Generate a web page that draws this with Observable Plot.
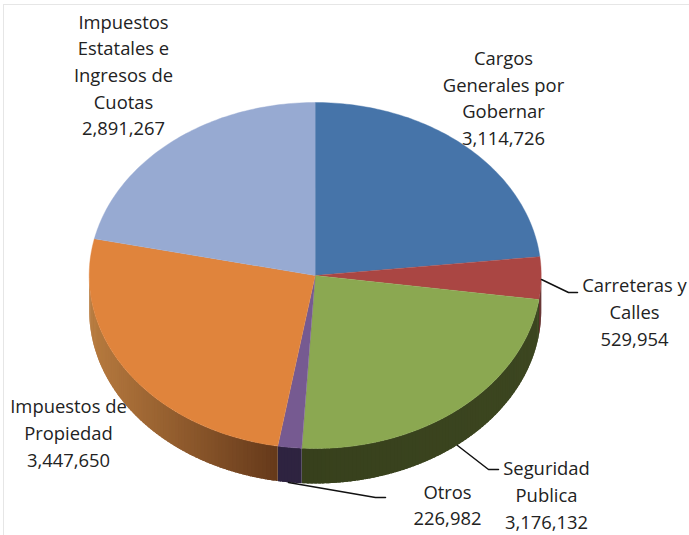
<!DOCTYPE html>
<html>
<head>
<meta charset="utf-8">
<script src="https://cdn.jsdelivr.net/npm/d3@7"></script>
<script src="https://cdn.jsdelivr.net/npm/@observablehq/plot@0.6"></script>
<style>
html,body{margin:0;padding:0;background:#fff;}
svg{display:block;}
</style>
</head>
<body>
<div id="chart"></div>
<script>
const categories = ["Cargos Generales por Gobernar","Carreteras y Calles","Seguridad Publica","Otros","Impuestos de Propiedad","Impuestos Estatales e Ingresos de Cuotas"];
const values = [3114726,529954,3176132,226982,3447650,2891267];
const topColors = ["#4674a9","#aa4643","#8ba851","#765a91","#e0843c","#97aad2"];
const sideLeft = ["#2a4566","#5c2523","#37401c","#2e2340","#b87b3f","#5a6a88"];
const sideRight = ["#2a4566","#5c2523","#3c4620","#2e2340","#65391a","#5a6a88"];
const labelLines = [
  "Cargos\nGenerales por\nGobernar\n3,114,726",
  "Carreteras y\nCalles\n529,954",
  "Seguridad\nPublica\n3,176,132",
  "Otros\n226,982",
  "Impuestos de\nPropiedad\n3,447,650",
  "Impuestos\nEstatales e\nIngresos de\nCuotas\n2,891,267"
];
const labelX = [503,634,546,447,68,123];
const labelY = [96,310,493,503,431,73];
const leaders = [
  {id:"Carreteras",pts:[[541,279],[568,292],[577,292]]},
  {id:"Seguridad",pts:[[457,445],[488,469],[498,469]]},
  {id:"Otros",pts:[[288,482],[375,497],[385,497]]}
];

const cx=314.7, cy=275, rx=226, ry=173, depth=35;
const total=d3.sum(values);
const rad=d=>d*Math.PI/180;
const px=t=>cx+rx*Math.sin(t), py=t=>cy-ry*Math.cos(t);

let acc=0;
const slices=values.map((v,i)=>{const a0=acc/total*2*Math.PI; acc+=v; return {i,a0,a1:acc/total*2*Math.PI};});

const topRows=[];
slices.forEach(s=>{
  topRows.push({id:s.i,x:cx,y:cy,c:topColors[s.i]});
  const n=Math.ceil((s.a1-s.a0)/rad(1));
  for(let k=0;k<=n;k++){const t=s.a0+(s.a1-s.a0)*k/n; topRows.push({id:s.i,x:px(t),y:py(t),c:topColors[s.i]});}
});

const sideRows=[];
slices.forEach(s=>{
  const lo=Math.max(s.a0,Math.PI/2), hi=Math.min(s.a1,3*Math.PI/2);
  if(hi<=lo) return;
  const n=Math.ceil((hi-lo)/rad(1));
  const xa=px(lo), xb=px(hi), xmin=Math.min(xa,xb), xmax=Math.max(xa,xb);
  const colorAt=d3.interpolateRgb(sideLeft[s.i],sideRight[s.i]);
  for(let k=0;k<n;k++){
    const a=lo+(hi-lo)*k/n, b=Math.min(hi,lo+(hi-lo)*(k+1.8)/n);
    const c=colorAt((px(lo+(hi-lo)*(k+.5)/n)-xmin)/(xmax-xmin));
    const id=s.i+"-"+k;
    const path=[];
    const m=6;
    for(let j=0;j<=m;j++){const t=a+(b-a)*j/m; path.push({id,x:px(t),y:py(t),c});}
    for(let j=m;j>=0;j--){const t=a+(b-a)*j/m; path.push({id,x:px(t),y:py(t)+depth,c});}
    sideRows.push(...path);
  }
});

const leaderRows=leaders.flatMap(l=>l.pts.map(([x,y])=>({id:l.id,x,y})));
const labelRows=labelLines.map((t,i)=>({t,x:labelX[i],y:labelY[i]}));

const plot=Plot.plot({
  width:689,height:535,margin:0,
  x:{domain:[0,689],axis:null},
  y:{domain:[535,0],axis:null},
  color:{type:"identity"},
  marks:[
    Plot.ruleX([3],{y1:4,y2:535,stroke:"#e6e6e6"}),
    Plot.ruleY([4],{x1:3,x2:689,stroke:"#e6e6e6"}),
    Plot.line(sideRows,{x:"x",y:"y",z:"id",fill:"c",stroke:"none",curve:"linear"}),
    Plot.line(topRows,{x:"x",y:"y",z:"id",fill:"c",stroke:"c",strokeWidth:0.4,curve:"linear"}),
    Plot.line(leaderRows,{x:"x",y:"y",z:"id",stroke:"#111",strokeWidth:1.5,curve:"linear"}),
    Plot.text(labelRows,{x:"x",y:"y",text:"t",fontFamily:"Open Sans",fontSize:18.4,lineHeight:1.45,fill:"#222",textAnchor:"middle"})
  ]
});
document.getElementById("chart").appendChild(plot);
</script>
</body>
</html>
